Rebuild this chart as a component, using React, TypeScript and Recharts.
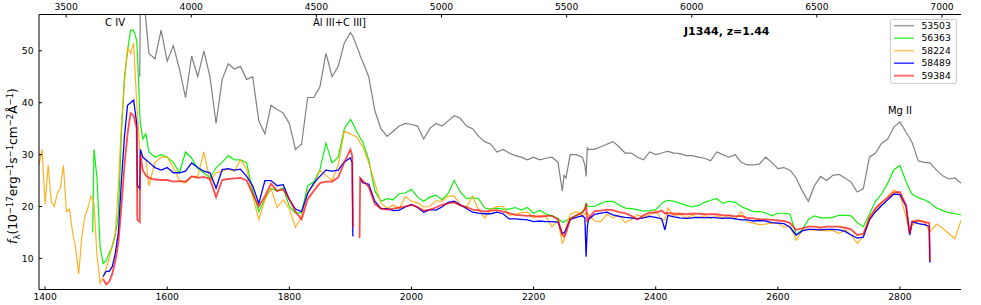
import { LineChart, Line, XAxis, YAxis } from 'recharts';

const n = null;

// rest-frame wavelength grid (Å)
const wave = [
  1390, 1395, 1400, 1405, 1410, 1415, 1420, 1425, 1430, 1435, 1440, 1445, 1450, 1455, 1460, 1465, 1470, 1475,
  1478, 1480, 1485, 1490, 1495, 1500, 1505, 1510, 1515, 1520, 1525, 1530, 1535, 1540, 1545, 1550, 1551, 1555, 1556, 1560, 1565, 1570,
  1580, 1590, 1600, 1610, 1620, 1630, 1640, 1650, 1660, 1670, 1680, 1690, 1700, 1710, 1720, 1730, 1740, 1750, 1760,
  1770, 1780, 1790, 1800, 1810, 1820, 1830, 1840, 1850, 1860, 1870, 1880, 1890, 1900, 1903, 1904, 1910, 1915, 1916, 1920, 1930, 1940, 1950,
  1960, 1970, 1980, 1990, 2000, 2010, 2020, 2030, 2040, 2050, 2060, 2070, 2080, 2090, 2100, 2110, 2120, 2130, 2140,
  2150, 2160, 2170, 2180, 2190, 2200, 2210, 2220, 2230, 2240, 2247, 2250, 2253, 2260, 2270, 2280, 2284, 2286, 2288, 2290, 2300, 2310, 2320,
  2330, 2340, 2350, 2360, 2370, 2380, 2390, 2400, 2410, 2415, 2420, 2430, 2440, 2450, 2460, 2470, 2480, 2490, 2500, 2510,
  2520, 2530, 2540, 2550, 2560, 2570, 2580, 2590, 2600, 2610, 2620, 2630, 2640, 2650, 2660, 2670, 2680, 2690, 2700,
  2710, 2720, 2730, 2740, 2750, 2760, 2770, 2780, 2790, 2800, 2810, 2816, 2820, 2830, 2840, 2848, 2849, 2850, 2860, 2870, 2880, 2890, 2900,
];

const f53503: (number | null)[] = [
  n, n, n, n, n, n, n, n, n, n, n, n, n, n, n, n, n, n,
  n, n, n, n, n, n, n, n, n, n, n, n, n, n, n, n, n, 45, 60, 62, 56, 49.5,
  48.5, 54, 48, 51, 46.5, 41, 49, 45, 50, 45, 36, 44.5, 47.5, 46.5, 47, 44.5, 45, 36.5, 34,
  39.5, 38.7, 38, 36, 31, 32, 41, 41, 43, 49.5, 45, 47, 51.5, 53.5, 53, 52.8, 51, 49.5, 49, 48, 45, 38.5, 35,
  33.5, 34.5, 35.5, 36, 35.8, 35.5, 33, 35, 36, 35.5, 36.5, 37.5, 37, 35.5, 35, 33.5, 32.5, 32, 30.5,
  31, 30.3, 29.8, 29.5, 29, 29.5, 29, 29.3, 29.5, 28.5, 23, 26, 25.5, 30, 30, 29.5, 28, 25.8, 31.3, 31, 31, 31.5, 32,
  32.5, 31.5, 30.3, 30.3, 29.5, 29, 30.5, 30, 30.3, 30.5, 30.6, 30.3, 30.2, 29.8, 29.8, 29.5, 29.3, 28.8, 30.5, 30,
  29.5, 30, 28.5, 28, 28, 28.2, 29.5, 28.5, 27.3, 27.5, 27, 25.5, 23, 21, 24, 25.8, 25, 26, 26.2,
  25.5, 24.7, 22.8, 23.4, 29.5, 30.3, 32.2, 33, 35.3, 36.3, 34.3, 33.2, 32.3, 28.8, 28.5, 28.4, 28.4, 28.3, 27, 25.9, 25.3, 25.5, 24.5,
];

const f56363: (number | null)[] = [
  n, n, n, n, n, n, n, n, n, n, n, n, n, n, n, n, n, n,
  15, 31, 25.5, 12.3, 9, 9.5, 11, 12.3, 14.5, 18.5, 34, 45, 50, 54, 54, 52, 50, 38, 36, 33, 34, 30.5,
  29.5, 30, 29.5, 28.5, 26.5, 30.5, 29.3, 27.3, 26.5, 25.5, 27.5, 28.5, 29.8, 29, 29, 28.4, 23, 19, 21.5,
  23.5, 23, 23.5, 20, 18.7, 18.8, 24, 24.7, 27.1, 32.2, 28.4, 29.5, 35, 36.8, 36.2, 36, 34.5, 33.5, 33.2, 32.5, 29, 23, 21,
  21.5, 21.3, 22.5, 22.6, 23.3, 21.8, 21, 21.8, 22.2, 21.3, 22.5, 25, 22.8, 21.5, 21.7, 21.5, 19.7, 19.5, 19.7,
  19.5, 19.5, 19.8, 19.3, 19.8, 18.7, 19.3, 18.6, 18.2, 17.7, 17, 17, 17.3, 17.7, 18.3, 19, 19.5, 20.6, 20.2, 20, 20, 20.6, 21,
  21, 20.3, 19.7, 19.6, 19.4, 19.1, 19.2, 19.4, 20.6, 21, 21.2, 21, 20.6, 20.2, 19.9, 20.2, 20.8, 21.2, 21.5, 20.6,
  21, 20.8, 20, 19.5, 19, 19, 18.8, 18.2, 18.7, 18.7, 18.5, 14.5, 15.5, 17.5, 18.2, 17.8, 17.8, 17.9, 18.3,
  18.3, 18.2, 16.9, 16.1, 18.5, 21, 22.4, 24.5, 27.1, 27.9, 24.8, 23.2, 22.4, 21.7, 21.3, 20.8, 20.8, 20.6, 19.7, 19.2, 18.8, 18.6, 18.4,
];

const f58224: (number | null)[] = [
  28, 31, 20.5, 28, 21, 20, 22.5, 23.5, 28, 19, 19.5, 15, 12, 7, 14, 18, 19.7, 22,
  21.5, 20.5, 10.5, 5.2, 6.5, 8, 10, 12.5, 15, 24, 36, 44, 50.5, 49.5, 51.5, 40, 38, 31, 30.5, 29.5, 29, 24,
  28.5, 29.5, 29.5, 27.5, 25, 24.5, 25.8, 25.8, 30.5, 25, 26.5, 26.8, 27.2, 26.8, 29, 27.2, 22, 17.5, 21.3,
  23.5, 19.8, 21.3, 19.5, 16, 18, 23, 24, 27, 26, 25, 28, 34.5, 34, 33.8, 33.7, 33.5, 32.5, 32.2, 31.6, 28.4, 24.5, 20.7,
  19.6, 20.3, 19.6, 21.9, 21, 20.7, 19.9, 20, 21.1, 21, 22, 22, 20.3, 19.8, 22, 19.3, 17.8, 19.5, 20,
  20, 18.3, 18.5, 18.8, 18.9, 17.8, 18.3, 18.1, 16.1, 17.2, 12.9, 13.5, 16, 18.5, 19, 18.2, 18.5, 18.8, 18.6, 18.4, 17.2, 17.1, 18.5,
  17.8, 18.3, 16.9, 17.5, 18.4, 17.9, 18.3, 19.2, 17.3, 17.5, 19.7, 18.2, 18.5, 17.8, 18.3, 17.8, 18.2, 17.7, 18.2, 17.8,
  18.3, 17.6, 19, 17, 16.8, 16.5, 16.6, 16.8, 16.8, 16, 16.2, 13.5, 15.4, 15.6, 15.4, 15.4, 15.3, 15.4, 14.8,
  15.5, 14.5, 12.9, 14.2, 18.1, 19.3, 20.6, 21.9, 23.2, 22.2, 18, 14.8, 16.4, 17.3, 17.1, 15.3, 15.2, 15.2, 16.6, 15.8, 14.8, 13.8, 17.3,
];

const f58489: (number | null)[] = [
  n, n, n, n, n, n, n, n, n, n, n, n, n, n, n, n, n, n,
  n, n, n, n, 6.5, 7.5, 7.5, 8.4, 11, 15, 25, 33.5, 39.5, 40, 40.5, 36, 24, 23.5, 31, 29.5, 29, 28.5,
  27.5, 27, 27.5, 26.5, 26.5, 26.8, 28.4, 27.5, 26.8, 26.5, 23.5, 27.1, 27.3, 27, 27.2, 25.8, 24, 20.6, 25,
  25, 24, 24.2, 21.3, 19.5, 19, 22.5, 24.5, 25.8, 27, 26.8, 27, 28.6, 29.4, 28.4, 14.2, n, n, 25.5, 24.6, 24.3, 21, 19.6,
  19.6, 19.2, 19.3, 19.9, 20.4, 19.8, 18.9, 19.4, 19.3, 19.9, 20.8, 21, 20.3, 19.6, 18.9, 18.7, 18.6, 18.6, 18.9,
  18.6, 17.6, 17.6, 17.5, 17.4, 17.1, 17.2, 17.1, 17.1, 17, 14.8, 14.9, 15.5, 17.5, 17.9, 18.2, 17.8, 10.3, 16, 17.5, 18.5, 18.7, 18.9,
  18.4, 18.1, 17.9, 17.8, 17.6, 17.8, 18.1, 17.9, 17.6, 15.5, 18.3, 18, 17.8, 17.7, 17.8, 17.9, 17.8, 17.9, 17.8, 17.7,
  17.8, 17.6, 17.4, 17.4, 17.2, 17.3, 17.2, 16.9, 16.8, 16.7, 16, 14.5, 15.3, 15.6, 15.6, 15.5, 15.6, 15.6, 15.5,
  15.2, 14.5, 13.9, 14.1, 17.4, 19, 20.2, 21.3, 22.4, 22.3, 20, 14.5, 17.1, 16.7, 16.5, 16.2, 9.2, n, n, n, n, n, n,
];

const f59384: (number | null)[] = [
  n, n, n, n, n, n, n, n, n, n, n, n, n, n, n, n, n, n,
  n, n, n, n, 6, 5, 5.5, 7, 9.5, 13, 20, 28, 34, 38, 37.5, 35, 17.5, 17, 30, 27, 26, 25.5,
  25.2, 25.1, 25.1, 24.8, 24.9, 24.8, 25.8, 25.5, 25.7, 25.3, 21.8, 25.1, 25.3, 25.4, 25.5, 25, 22.5, 20, 22,
  24.4, 23, 23.3, 21.4, 19, 17.5, 21.4, 23, 24.5, 24.8, 24.8, 25.6, 28.5, 31, 29.8, 16, n, 13.9, 25.5, 25, 23.8, 20.5, 19.6,
  19.4, 19.6, 19.8, 20, 20.3, 19.9, 19.2, 19.4, 19.8, 20.3, 20.6, 20.8, 20.2, 19.9, 19.4, 19.3, 19, 19.2, 19.3,
  19, 18.7, 18.4, 18.3, 18.2, 18.2, 18, 18.2, 18.2, 17.5, 14.5, 14.2, 14.8, 17.6, 18.3, 18.8, 19.5, 20.5, 17, 17.8, 19.1, 19.2, 19.4,
  19.3, 18.9, 18.7, 18.2, 17.5, 18.3, 18.8, 18.8, 19.2, 18.7, 18.7, 18.6, 18.6, 18.5, 18.6, 18.6, 18.5, 18.5, 18.5, 18.3,
  18.3, 18.1, 18.2, 17.8, 17.7, 17.5, 17.5, 17.4, 17.3, 17.2, 16.8, 15.5, 15.8, 16.1, 16.1, 15.9, 16.1, 16.1, 16.1,
  15.9, 15.6, 14.5, 14.7, 17.7, 19.7, 20.8, 21.7, 22.7, 22.8, 20.3, 14.8, 17.1, 17.3, 17, 16.8, 9.5, n, n, n, n, n, n,
];

const seriesKeys = ['53503', '56363', '58224', '58489', '59384'];
const seriesValues = [f53503, f56363, f58224, f58489, f59384];
const seriesColors = ['#808080', '#00ee00', '#ffa500', '#0000ff', '#ff0000'];
const seriesWidths = [1.2, 1.2, 1.2, 1.3, 1.8];
const seriesOpacity = [1, 0.95, 0.85, 1, 0.7];

const bottomTicks = [1400, 1600, 1800, 2000, 2200, 2400, 2600, 2800];
// observed-frame tick labels (Å)
const topTicks = [3500, 4000, 4500, 5000, 5500, 6000, 6500, 7000];
const yTicks = [10, 20, 30, 40, 50];
const redshift = 1.44;

const rows = wave.map((w, i) => {
  const row: Record<string, number | null> = { w };
  seriesKeys.forEach((k, j) => {
    row[k] = seriesValues[j][i];
  });
  return row;
});

const font = 'DejaVu Sans, sans-serif';
const tickStyle = { fontSize: 9.2, fill: '#000', fontFamily: font };

export default function App() {
  return (
    <div style={{ position: 'absolute', left: 0, top: 0, width: 981, height: 305, background: '#fff' }}>
      <LineChart width={981} height={305} data={rows} margin={{ top: 0, right: 20, bottom: 0, left: 0 }}>
        <XAxis
          xAxisId="bottom"
          dataKey="w"
          type="number"
          domain={[1390, 2900]}
          allowDataOverflow
          ticks={bottomTicks}
          interval={0}
          height={15.5}
          tickSize={-3}
          tickMargin={6.5}
          tick={tickStyle}
          axisLine={{ stroke: '#000' }}
          tickLine={{ stroke: '#000' }}
        />
        <XAxis
          xAxisId="top"
          orientation="top"
          dataKey="w"
          type="number"
          domain={[1390, 2900]}
          allowDataOverflow
          ticks={topTicks.map((t) => t / (1 + redshift))}
          tickFormatter={(v: number) => String(Math.round(v * (1 + redshift)))}
          interval={0}
          height={14.5}
          tickSize={-3}
          tickMargin={7.5}
          tick={tickStyle}
          axisLine={{ stroke: '#000' }}
          tickLine={{ stroke: '#000' }}
        />
        <YAxis
          yAxisId="left"
          type="number"
          domain={[4, 57]}
          allowDataOverflow
          ticks={yTicks}
          interval={0}
          width={39}
          tickSize={-3}
          tickMargin={8.5}
          tick={tickStyle}
          axisLine={{ stroke: '#000' }}
          tickLine={{ stroke: '#000' }}
        />
        <YAxis yAxisId="right" orientation="right" width={0} domain={[4, 57]} tick={false} tickLine={false} axisLine={{ stroke: '#000' }} />
        {/* invisible series so the observed-frame axis gets a scale */}
        <Line
          xAxisId="top"
          yAxisId="left"
          dataKey="53503"
          stroke="none"
          dot={false}
          activeDot={false}
          isAnimationActive={false}
          legendType="none"
        />
        {seriesKeys.map((k, j) => (
          <Line
            key={k}
            xAxisId="bottom"
            yAxisId="left"
            dataKey={k}
            stroke={seriesColors[j]}
            strokeWidth={seriesWidths[j]}
            strokeOpacity={seriesOpacity[j]}
            dot={false}
            activeDot={false}
            isAnimationActive={false}
            type="linear"
          />
        ))}
      </LineChart>
      <svg width={981} height={305} style={{ position: 'absolute', left: 0, top: 0, pointerEvents: 'none' }} fontFamily={font}>
        <text x={115} y={26} fontSize={10} textAnchor="middle">C IV</text>
        <text x={339.5} y={26} fontSize={10} textAnchor="middle">Al III+C III]</text>
        <text x={900} y={113.5} fontSize={10} textAnchor="middle">Mg II</text>
        <text x={684} y={35} fontSize={11} fontWeight="bold">J1344, z=1.44</text>
        <text transform="translate(17,166) rotate(-90)" fontSize={12.2} textAnchor="middle">
          <tspan fontStyle="italic">f</tspan>
          <tspan fontSize={8.5} dy={2.8}>λ</tspan>
          <tspan dy={-2.8}>(10</tspan>
          <tspan fontSize={8.5} dy={-4.5}>−17</tspan>
          <tspan dy={4.5}>erg</tspan>
          <tspan fontSize={8.5} dy={-4.5}>−1</tspan>
          <tspan dy={4.5}>s</tspan>
          <tspan fontSize={8.5} dy={-4.5}>−1</tspan>
          <tspan dy={4.5}>cm</tspan>
          <tspan fontSize={8.5} dy={-4.5}>−2</tspan>
          <tspan dy={4.5}>Å</tspan>
          <tspan fontSize={8.5} dy={-4.5}>−1</tspan>
          <tspan dy={4.5}>)</tspan>
        </text>
        <rect x={890.5} y={19.5} width={66} height={64} rx={2} fill="#fff" fillOpacity={0.8} stroke="#cccccc" />
        {seriesKeys.map((k, j) => (
          <g key={k}>
            <line
              x1={894}
              x2={914}
              y1={25.7 + j * 12.5}
              y2={25.7 + j * 12.5}
              stroke={seriesColors[j]}
              strokeWidth={seriesWidths[j] + 0.3}
              strokeOpacity={seriesOpacity[j] * 0.75}
            />
            <text x={921.5} y={25.7 + j * 12.5} dy="0.35em" fontSize={9.2}>{k}</text>
          </g>
        ))}
      </svg>
    </div>
  );
}
